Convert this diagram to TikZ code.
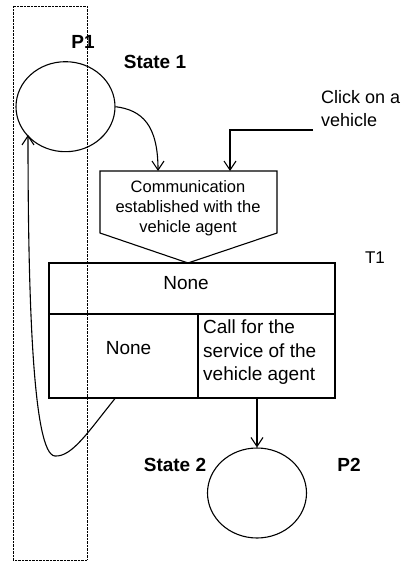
\documentclass[tikz,border=0pt]{standalone}
\usepackage{fontspec}
\setmainfont{Liberation Sans}
\usetikzlibrary{shapes.geometric,arrows.meta}
\begin{document}
\begin{tikzpicture}[x=1pt,y=-1pt,
  line/.style={line width=1.1pt},
  arr/.style={line,-{Straight Barb[length=9pt,width=12pt,line width=1.1pt]}},
  place/.style={ellipse,draw,line width=1.1pt,minimum width=99pt,minimum height=90pt,inner sep=0pt},
  cell/.style={rectangle,draw,line width=1.1pt,inner sep=0pt,font=\fontsize{19}{23.5}\selectfont},
  lbl/.style={font=\fontsize{19}{22}\selectfont\bfseries,inner sep=0pt},
  tlbl/.style={font=\fontsize{17}{20}\selectfont,inner sep=0pt}]
\useasboundingbox (0,0) rectangle (413,561);
% dotted frame
\draw[line width=0.6pt,dash pattern=on 0.7pt off 0.7pt] (13,6) rectangle (87,560);
% places
\node[place] (P1) at (65.5,106.7) {};
\node[place] (P2) at (257,493) {};
\node[lbl] (p1l) at (83,42) {P1};
\node[lbl] (s1l) at (155,62) {State 1};
\node[lbl] (s2l) at (175,465) {State 2};
\node[lbl] (p2l) at (349,465) {P2};
\node[tlbl] (t1l) at (375,258) {T1};
% pentagon
\draw[line] (100,171) -- (277,171) -- (277,233) -- (188,263) -- (100,233) -- cycle;
\coordinate (pA) at (158,171);
\coordinate (pB) at (230,171);
\node[align=center,inner sep=0pt,font=\fontsize{16.5}{20}\selectfont] (comm) at (188,208)
  {Communication\\established with the\\vehicle agent};
% click label
\node[anchor=north west,align=left,inner sep=0pt,font=\fontsize{18}{23}\selectfont] (click) at (321,90)
  {Click on a\\vehicle};
\coordinate (clk) at (313,130);
% transition table
\node[cell,minimum width=286pt,minimum height=51pt] (none1) at (192,288.5) {};
\node[font=\fontsize{19}{23.5}\selectfont,inner sep=0pt] (none1t) at (186,283) {None};
\node[cell,minimum width=149pt,minimum height=84pt] (none2) at (123.5,356) {};
\node[font=\fontsize{19}{23.5}\selectfont,inner sep=0pt] (none2t) at (128.5,348) {None};
\node[cell,minimum width=137pt,minimum height=84pt] (call) at (266.5,356) {};
\node[anchor=north west,align=left,inner sep=0pt,font=\fontsize{19}{23.5}\selectfont] (callt) at (203,320)
  {Call for the\\service of the\\vehicle agent};
% connectors
\draw[arr] (P1.east) .. controls (142,110) and (158,125) .. (pA);
\draw[arr] (clk) -- (clk -| pB) -- (pB);
\draw[arr] (call.south -| P2.north) -- (P2.north);
\draw[arr] ([xshift=-8.5pt]none2.south) .. controls (88,432) and (72,457) .. (55,456)
  .. controls (33,455) and (28,300) .. (28,135);
\end{tikzpicture}
\end{document}
